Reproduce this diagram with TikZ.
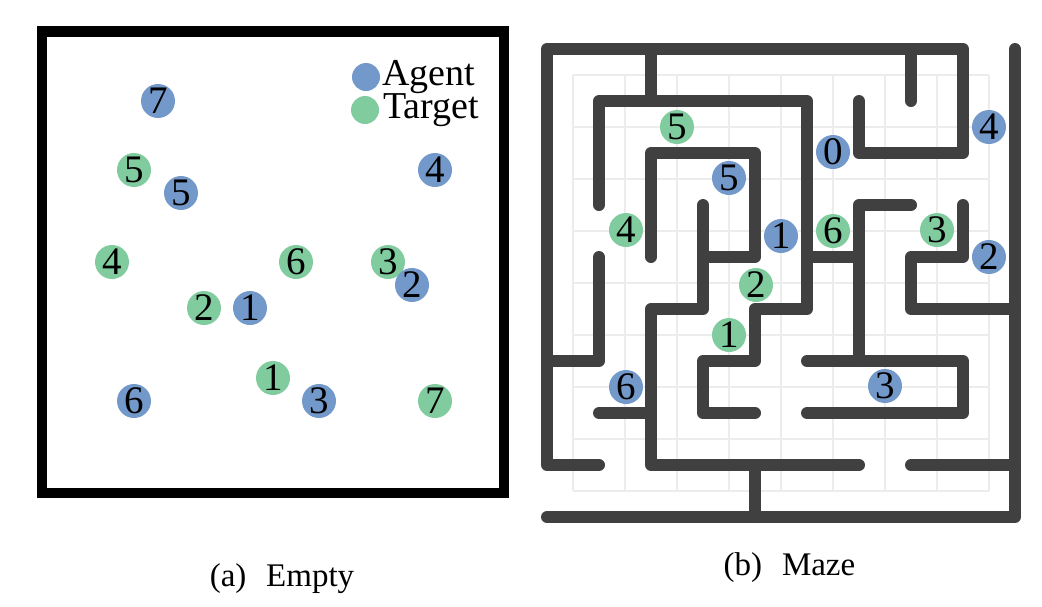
\documentclass[tikz,border=0pt]{standalone}
\usepackage{fontspec}
\setmainfont{Liberation Serif}
\definecolor{agentblue}{RGB}{115,153,202}
\definecolor{targetgreen}{RGB}{128,204,158}
\definecolor{wallgray}{RGB}{64,64,64}
\definecolor{gridgray}{RGB}{236,236,236}
\tikzset{
  marker/.style={circle, minimum size=34pt, inner sep=0pt, font=\fontsize{39}{39}\selectfont},
  agent/.style={marker, fill=agentblue},
  target/.style={marker, fill=targetgreen},
  legenddot/.style={circle, minimum size=28pt, inner sep=0pt},
  legendtext/.style={anchor=base west, inner sep=0pt, font=\fontsize{38}{38}\selectfont},
  captiontext/.style={anchor=base, inner sep=0pt, font=\fontsize{33}{33}\selectfont},
  wall/.style={wallgray, line width=12pt, line cap=round, line join=round},
  gridline/.style={gridgray, line width=1.5pt},
  frame/.style={black, line width=10.5pt},
}
\begin{document}
\begin{tikzpicture}[x=1pt,y=-1pt]
\useasboundingbox (0,0) rectangle (1042,606);

% ---------- (a) Empty ----------
\draw[frame] (42,31.5) rectangle (504,493);

\node[legenddot, fill=agentblue] (legA) at (366,77) {};
\node[legenddot, fill=targetgreen] (legT) at (365,110) {};
\node[legendtext] (legAtext) at (382,85) {Agent};
\node[legendtext] (legTtext) at (383,118) {Target};

% targets
\node[target] (et5) at (134,170) {5};
\node[target] (et4) at (112,262) {4};
\node[target] (et6) at (296,262) {6};
\node[target] (et3) at (388,262) {3};
\node[target] (et2) at (204,308) {2};
\node[target] (et1) at (273,378) {1};
\node[target] (et7) at (435,401) {7};
% agents
\node[agent] (ea7) at (158,101) {7};
\node[agent] (ea5) at (181,193) {5};
\node[agent] (ea4) at (435,170) {4};
\node[agent] (ea2) at (412,285) {2};
\node[agent] (ea1) at (250,308) {1};
\node[agent] (ea6) at (134,401) {6};
\node[agent] (ea3) at (319,401) {3};

\node[captiontext] (capa) at (282,586) {(a)\hspace{0.6em}Empty};

% ---------- (b) Maze ----------
\begin{scope}[shift={(547pt,-49pt)}, x=52pt, y=-52pt]
  \foreach \k in {0.5,1.5,...,8.5} {
    \draw[gridline] (\k,0.5) -- (\k,8.5);
    \draw[gridline] (0.5,\k) -- (8.5,\k);
  }
  \draw[wall] (1,8) -- (0,8) -- (0,0) -- (8,0) -- (8,2) -- (6,2) -- (6,1);
  \draw[wall] (2,0) -- (2,1);
  \draw[wall] (7,0) -- (7,1);
  \draw[wall] (9,0) -- (9,9) -- (0,9);
  \draw[wall] (1,3) -- (1,1) -- (5,1) -- (5,5) -- (4,5) -- (4,6) -- (3,6) -- (3,7) -- (4,7);
  \draw[wall] (1,4) -- (1,6) -- (0,6);
  \draw[wall] (1,7) -- (2,7);
  \draw[wall] (2,4) -- (2,2) -- (4,2) -- (4,4) -- (3,4);
  \draw[wall] (3,3) -- (3,5) -- (2,5) -- (2,8) -- (6,8);
  \draw[wall] (4,8) -- (4,9);
  \draw[wall] (5,4) -- (6,4);
  \draw[wall] (7,3) -- (6,3) -- (6,6);
  \draw[wall] (5,6) -- (8,6) -- (8,7) -- (5,7);
  \draw[wall] (8,3) -- (8,4) -- (7,4) -- (7,5) -- (9,5);
  \draw[wall] (7,8) -- (9,8);
\end{scope}

% targets
\node[target] (mt5) at (677,127) {5};
\node[target] (mt4) at (626,230) {4};
\node[target] (mt6) at (833,231) {6};
\node[target] (mt3) at (937,230) {3};
\node[target] (mt2) at (756,285) {2};
\node[target] (mt1) at (729,335) {1};
% agents
\node[agent] (ma5) at (729,178) {5};
\node[agent] (ma0) at (833,152) {0};
\node[agent] (ma4) at (989,127) {4};
\node[agent] (ma1) at (781,236) {1};
\node[agent] (ma2) at (989,257) {2};
\node[agent] (ma6) at (626,387) {6};
\node[agent] (ma3) at (885,386) {3};

\node[captiontext] (capb) at (789.5,575) {(b)\hspace{0.6em}Maze};
\end{tikzpicture}
\end{document}
